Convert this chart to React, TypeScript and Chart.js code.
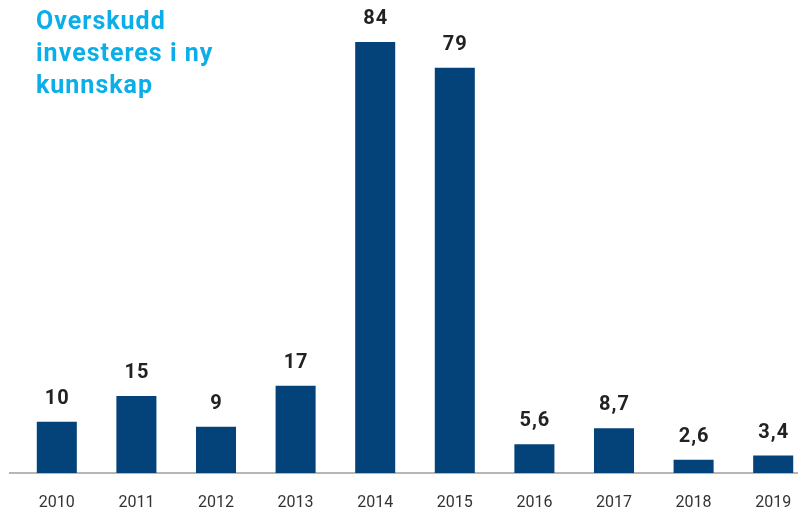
import React, { useEffect, useRef } from "react";
import { Chart, registerables } from "chart.js";

Chart.register(...registerables);

const years = ["2010", "2011", "2012", "2013", "2014", "2015", "2016", "2017", "2018", "2019"];
const values = [10, 15, 9, 17, 84, 79, 5.6, 8.7, 2.6, 3.4];
const titleLines = ["Overskudd", "investeres i ny", "kunnskap"];

const BAR_COLOR = "#03437a";

const labelPlugin = {
  id: "valueLabels",
  afterDatasetsDraw(chart: any) {
    const { ctx } = chart;
    const meta = chart.getDatasetMeta(0);
    ctx.save();
    ctx.font = "bold 20px Roboto";
    try {
      (ctx as any).letterSpacing = "1px";
    } catch (e) {}
    ctx.fillStyle = "#222222";
    ctx.textAlign = "center";
    ctx.textBaseline = "alphabetic";
    meta.data.forEach((bar: any, i: number) => {
      const txt = String(values[i]).replace(".", ",");
      ctx.fillText(txt, bar.x + 0.5, bar.y - 18);
    });
    ctx.restore();
  },
};

const baselinePlugin = {
  id: "baseline",
  beforeDatasetsDraw(chart: any) {
    const { ctx } = chart;
    const y = chart.scales.y.getPixelForValue(0);
    ctx.save();
    ctx.strokeStyle = "#a39d98";
    ctx.lineWidth = 1.5;
    ctx.beginPath();
    ctx.moveTo(9, y);
    ctx.lineTo(chart.width, y);
    ctx.stroke();
    ctx.restore();
  },
};

export default function App() {
  const ref = useRef<HTMLCanvasElement | null>(null);

  useEffect(() => {
    if (!ref.current) return;
    const chart = new Chart(ref.current, {
      type: "bar",
      data: {
        labels: years,
        datasets: [
          {
            data: values,
            backgroundColor: BAR_COLOR,
            categoryPercentage: 1,
            barPercentage: 0.503,
          },
        ],
      },
      options: {
        animation: false,
        responsive: false,
        maintainAspectRatio: false,
        layout: { padding: { left: 17, right: 27, top: 42, bottom: 0 } },
        plugins: {
          legend: { display: false },
          tooltip: { enabled: false },
          title: { display: false },
        },
        scales: {
          x: {
            grid: { display: false, drawTicks: false },
            border: { display: false },
            ticks: {
              color: "#333333",
              font: { family: "Roboto", size: 16 },
              padding: 20,
              maxRotation: 0,
            },
            afterFit(scale: any) {
              scale.height = 38;
            },
          },
          y: {
            display: false,
            min: 0,
            max: 84,
          },
        },
      },
      plugins: [baselinePlugin, labelPlugin],
    });
    return () => chart.destroy();
  }, []);

  return (
    <div
      style={{
        position: "absolute",
        left: 0,
        top: 0,
        width: 798,
        height: 511,
        overflow: "hidden",
        background: "#ffffff",
      }}
    >
      <canvas ref={ref} width={840} height={511} style={{ width: 840, height: 511, display: "block" }} />
      <div
        style={{
          position: "absolute",
          left: 36,
          top: 5,
          fontFamily: "Roboto",
          fontWeight: "bold",
          fontSize: 25,
          letterSpacing: "1px",
          lineHeight: "32px",
          color: "#0caee9",
        }}
      >
        {titleLines.map((l) => (
          <div key={l}>{l}</div>
        ))}
      </div>
    </div>
  );
}
